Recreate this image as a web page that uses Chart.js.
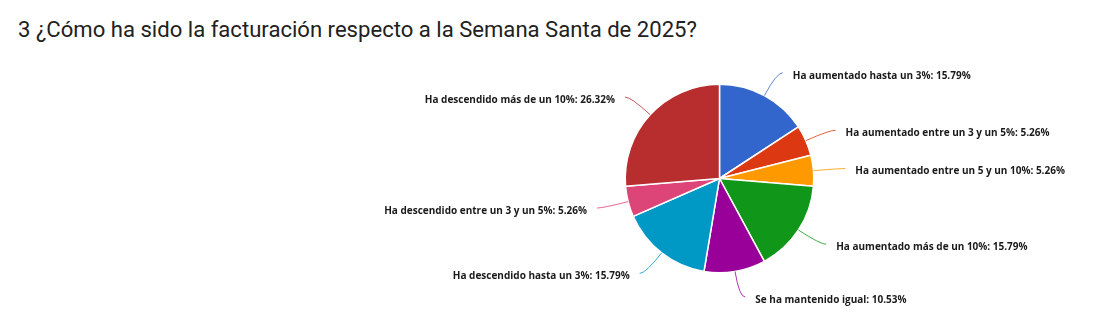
<!DOCTYPE html>
<html>
<head>
<meta charset="utf-8">
<script src="https://cdn.jsdelivr.net/npm/chart.js@4"></script>
<style>
  html, body { margin: 0; padding: 0; background: #fff; }
  #wrap { position: relative; width: 1111px; height: 332px; }
  #title {
    position: absolute; left: 18px; top: 16px;
    font: 22.1px Roboto, sans-serif; color: #212121; white-space: nowrap;
  }
  canvas { position: absolute; left: 0; top: 0; }
</style>
</head>
<body>
<div id="wrap">
  <div id="title">3 ¿Cómo ha sido la facturación respecto a la Semana Santa de 2025?</div>
  <canvas id="pieChart" width="1111" height="332"></canvas>
</div>
<script>
// --- data ---
const categories = [
    'Ha aumentado hasta un 3%',
    'Ha aumentado entre un 3 y un 5%',
    'Ha aumentado entre un 5 y un 10%',
    'Ha aumentado más de un 10%',
    'Se ha mantenido igual',
    'Ha descendido hasta un 3%',
    'Ha descendido entre un 3 y un 5%',
    'Ha descendido más de un 10%'
];
const percentages = [15.79, 5.26, 5.26, 15.79, 10.53, 15.79, 5.26, 26.32];
const sliceColors = ['#3366cc', '#dc3912', '#ff9900', '#109618', '#990099', '#0099c6', '#dd4477', '#b82e2e'];

// leader lines + outside labels
const outsideLabels = {
    id: 'outsideLabels',
    afterDatasetsDraw(chart) {
        const ctx = chart.ctx;
        const meta = chart.getDatasetMeta(0);
        ctx.save();
        ctx.font = 'bold 10px "Open Sans", sans-serif';
        ctx.textBaseline = 'middle';
        meta.data.forEach((arc, i) => {
            const p = arc.getProps(['x', 'y', 'startAngle', 'endAngle', 'outerRadius'], true);
            const mid = (p.startAngle + p.endAngle) / 2;
            const cos = Math.cos(mid), sin = Math.sin(mid);
            const r = p.outerRadius;
            const side = cos >= 0 ? 1 : -1;
            const sx = p.x + cos * r, sy = p.y + sin * r;
            const ex = p.x + cos * (r + 26), ey = p.y + sin * (r + 26);
            const tx = ex + side * 6;
            ctx.strokeStyle = sliceColors[i];
            ctx.globalAlpha = 0.8;
            ctx.lineWidth = 1;
            ctx.beginPath();
            ctx.moveTo(sx, sy);
            ctx.quadraticCurveTo(ex, ey, tx, ey);
            ctx.stroke();
            ctx.globalAlpha = 1;
            ctx.fillStyle = '#1a1a1a';
            ctx.textAlign = side > 0 ? 'left' : 'right';
            ctx.fillText(categories[i] + ': ' + percentages[i].toFixed(2) + '%', tx + side * 10, ey + 3);
        });
        ctx.restore();
    }
};

const ctx = document.getElementById('pieChart').getContext('2d');
const pieChart = new Chart(ctx, {
    type: 'pie',
    data: {
        labels: categories,
        datasets: [{
            data: percentages,
            backgroundColor: sliceColors,
            borderColor: '#ffffff',
            borderWidth: 1.5
        }]
    },
    options: {
        responsive: false,
        animation: false,
        layout: { padding: { left: 519.5, right: 191.5, top: 83.5, bottom: 58.5 } },
        plugins: {
            legend: { display: false },
            tooltip: { enabled: false }
        }
    },
    plugins: [outsideLabels]
});
</script>
</body>
</html>
